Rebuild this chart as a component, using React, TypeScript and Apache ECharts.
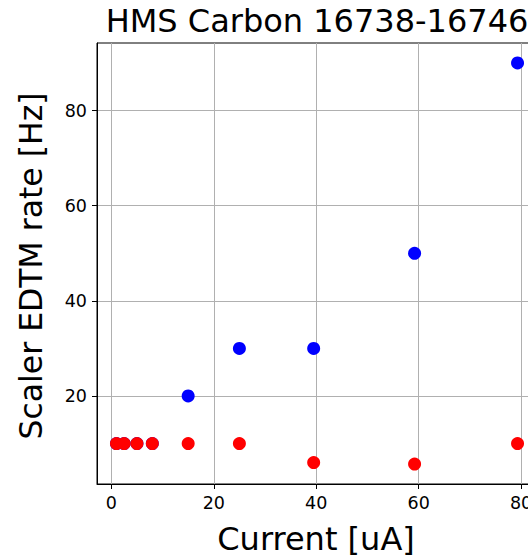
import React, { useEffect, useRef } from 'react';
import * as echarts from 'echarts';

const current = [1, 2.5, 5, 8, 15, 25, 39.5, 59.2, 79.3];
const blueRate = [10, 10, 10, 10, 20, 30, 30, 50, 90];
const redRate = [10, 10, 10, 10, 10, 10, 6, 5.7, 10];
const xTicks = [0, 20, 40, 60, 80];
const yTicks = [20, 40, 60, 80];
const titleText = 'HMS Carbon 16738-16746';
const xLabel = 'Current [uA]';
const yLabel = 'Scaler EDTM rate [Hz]';

const FONT = 'DejaVu Sans';

export default function App() {
  const ref = useRef<HTMLDivElement>(null);
  useEffect(() => {
    if (!ref.current) return;
    const chart = echarts.init(ref.current, undefined, { renderer: 'svg' });
    const axisCommon = {
      type: 'value' as const,
      axisLine: { show: true, onZero: false, lineStyle: { color: '#000', width: 1 } },
      splitLine: { show: true, lineStyle: { color: '#b0b0b0', width: 1 } },
    };
    chart.setOption({
      animation: false,
      backgroundColor: '#fff',
      grid: {
        left: 97, top: 43, right: 9, bottom: 75,
        show: true, borderColor: '#000', borderWidth: 1, backgroundColor: 'transparent',
      },
      xAxis: {
        ...axisCommon,
        min: -2.8, max: 83.1,
        axisTick: { show: true, customValues: xTicks, length: 5, lineStyle: { color: '#000' } },
        axisLabel: { customValues: xTicks, fontSize: 17.5, color: '#000', fontFamily: FONT, margin: 10 },
      },
      yAxis: {
        ...axisCommon,
        min: 1.5, max: 94.2,
        axisTick: { show: true, customValues: yTicks, length: 5, lineStyle: { color: '#000' } },
        axisLabel: { customValues: yTicks, fontSize: 17.5, color: '#000', fontFamily: FONT, margin: 10 },
      },
      graphic: [
        {
          type: 'text', x: 317, y: 21,
          style: { text: titleText, fill: '#000', fontSize: 32, fontFamily: FONT, align: 'center', verticalAlign: 'middle' },
        },
        {
          type: 'text', x: 316, y: 539,
          style: { text: xLabel, fill: '#000', fontSize: 32, fontFamily: FONT, align: 'center', verticalAlign: 'middle' },
        },
        {
          type: 'text', x: 31, y: 266, rotation: Math.PI / 2,
          style: { text: yLabel, fill: '#000', fontSize: 31.5, fontFamily: FONT, align: 'center', verticalAlign: 'middle' },
        },
      ],
      series: [
        {
          type: 'scatter', symbolSize: 13, itemStyle: { color: '#0000ff', opacity: 1 },
          data: current.map((x, i) => [x, blueRate[i]]),
        },
        {
          type: 'scatter', symbolSize: 13, itemStyle: { color: '#ff0000', opacity: 1 },
          data: current.map((x, i) => [x, redRate[i]]),
        },
      ],
    });
    return () => chart.dispose();
  }, []);
  return (
    <div style={{ position: 'fixed', left: 0, top: 0, width: 528, height: 559, overflow: 'hidden' }}>
      <div ref={ref} style={{ position: 'absolute', left: 0, top: 0, width: 546, height: 559 }} />
    </div>
  );
}
